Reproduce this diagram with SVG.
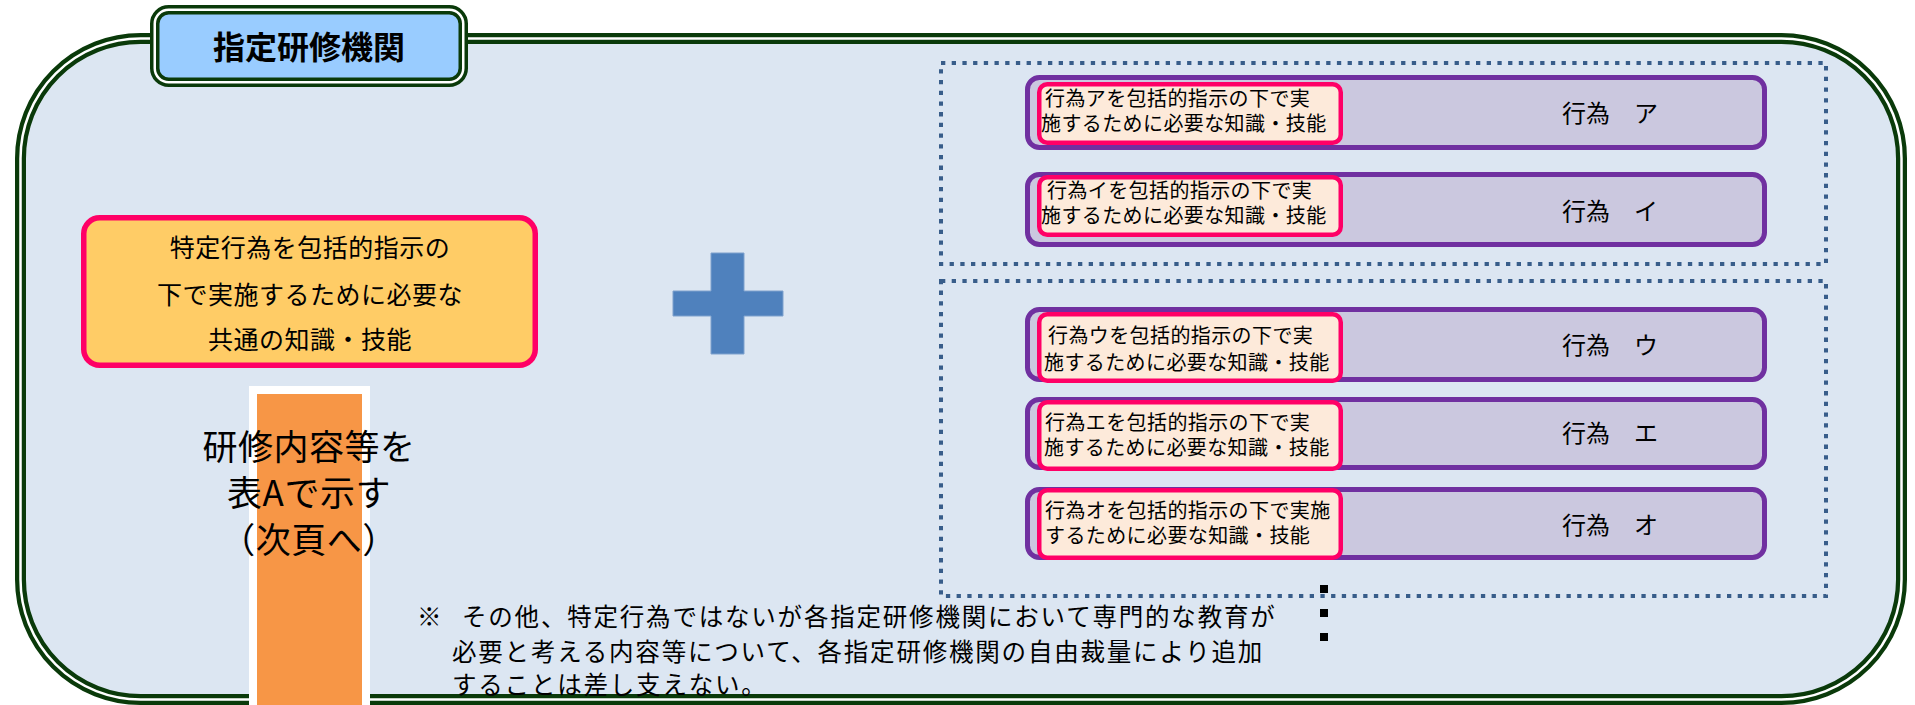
<svg xmlns="http://www.w3.org/2000/svg" width="1915" height="705" viewBox="0 0 1915 705">
<style>
  text { font-family: "Noto Sans CJK JP", "Noto Sans CJK SC", sans-serif; fill: #000; }
  .frame { fill: #DCE6F2; stroke: #0A3A0A; stroke-width: 11; }
  .frameW { fill: none; stroke: #FFFFFF; stroke-width: 2.5; }
  .dots { fill: none; stroke: #385D8A; stroke-width: 4; stroke-dasharray: 4.3 6.4; }
  .act { fill: #CBC8DF; stroke: #7030A0; stroke-width: 5; }
  .need { fill: #FDEADA; stroke: #FF0066; stroke-width: 4.5; }
  .needT { font-size: 20px; letter-spacing: 0.4px; }
  .actT { font-size: 24px; }
  .common { font-size: 25px; letter-spacing: 0.5px; }
  .col { font-size: 35px; letter-spacing: 0.5px; }
  .note { font-size: 24.5px; letter-spacing: 1.8px; }
</style>
<rect x="0" y="0" width="1915" height="705" fill="#FFFFFF"/>

<g id="frame">
  <rect class="frame" x="20.5" y="38.5" width="1881" height="661" rx="120"/>
  <rect class="frameW" x="20.5" y="38.5" width="1881" height="661" rx="120"/>
</g>

<g id="title">
  <rect x="154.75" y="9.75" width="308.5" height="72.5" rx="14" fill="#99CCFF" stroke="#0A3A0A" stroke-width="9.5"/>
  <rect x="154.75" y="9.75" width="308.5" height="72.5" rx="14" fill="none" stroke="#FFFFFF" stroke-width="2.5"/>
  <text x="309" y="59" font-size="32" font-weight="bold" text-anchor="middle">指定研修機関</text>
</g>

<g id="common">
  <rect x="83.75" y="217.75" width="451.5" height="147.5" rx="16" fill="#FFCC66" stroke="#FF0066" stroke-width="5.5"/>
  <text class="common" text-anchor="middle"><tspan x="310" y="257">特定行為を包括的指示の</tspan><tspan x="310" y="304">下で実施するために必要な</tspan><tspan x="310" y="349">共通の知識・技能</tspan></text>
</g>

<g id="tableA">
  <rect x="253" y="390" width="113" height="330" fill="#F79646" stroke="#FFFFFF" stroke-width="8"/>
  <text class="col" text-anchor="middle"><tspan x="309" y="460">研修内容等を</tspan><tspan x="309" y="506">表Aで示す</tspan><tspan x="309" y="553">（次頁へ）</tspan></text>
</g>

<g id="plus">
  <path d="M711,253 H744 V291 H783 V316 H744 V354 H711 V316 H673 V291 H711 Z" fill="#4F81BD" stroke="#7EA1CD" stroke-width="1"/>
</g>

<g id="group1">
  <rect class="dots" x="941" y="63" width="885" height="201"/>
</g>
<g id="group2">
  <rect class="dots" x="941" y="281" width="885" height="315"/>
</g>

<g id="actA">
  <rect class="act" x="1027.5" y="77.5" width="737" height="70" rx="12"/>
  <rect class="need" x="1039.25" y="84.25" width="301.5" height="58.5" rx="8"/>
  <text class="needT"><tspan x="1045" y="105.5">行為アを包括的指示の下で実</tspan><tspan x="1041" y="131">施するために必要な知識・技能</tspan></text>
  <text class="actT" x="1562" y="122">行為　ア</text>
</g>

<g id="actI">
  <rect class="act" x="1027.5" y="174.5" width="737" height="70" rx="12"/>
  <rect class="need" x="1039.25" y="177.25" width="301.5" height="57.5" rx="8"/>
  <text class="needT"><tspan x="1047" y="197.5">行為イを包括的指示の下で実</tspan><tspan x="1041" y="223">施するために必要な知識・技能</tspan></text>
  <text class="actT" x="1562" y="220">行為　イ</text>
</g>

<g id="actU">
  <rect class="act" x="1027.5" y="309.5" width="737" height="70" rx="12"/>
  <rect class="need" x="1039.25" y="314.25" width="301.5" height="66.5" rx="8"/>
  <text class="needT"><tspan x="1048" y="343">行為ウを包括的指示の下で実</tspan><tspan x="1044" y="370">施するために必要な知識・技能</tspan></text>
  <text class="actT" x="1562" y="354">行為　ウ</text>
</g>

<g id="actE">
  <rect class="act" x="1027.5" y="399.5" width="737" height="68" rx="12"/>
  <rect class="need" x="1039.25" y="402.25" width="301.5" height="66.5" rx="8"/>
  <text class="needT"><tspan x="1045" y="429.5">行為エを包括的指示の下で実</tspan><tspan x="1044" y="455">施するために必要な知識・技能</tspan></text>
  <text class="actT" x="1562" y="442">行為　エ</text>
</g>

<g id="actO">
  <rect class="act" x="1027.5" y="489.5" width="737" height="68" rx="12"/>
  <rect class="need" x="1039.25" y="490.25" width="301.5" height="67.5" rx="8"/>
  <text class="needT"><tspan x="1045" y="517.5">行為オを包括的指示の下で実施</tspan><tspan x="1045" y="543">するために必要な知識・技能</tspan></text>
  <text class="actT" x="1562" y="534">行為　オ</text>
</g>

<g id="ellipsis">
  <rect x="1320" y="585" width="8" height="8" fill="#000"/>
  <rect x="1320" y="609" width="8" height="8" fill="#000"/>
  <rect x="1320" y="633" width="8" height="8" fill="#000"/>
</g>

<g id="note">
  <text class="note"><tspan x="417" y="626">※</tspan><tspan x="462" y="626">その他、特定行為ではないが各指定研修機関において専門的な教育が</tspan><tspan x="452" y="661">必要と考える内容等について、各指定研修機関の自由裁量により追加</tspan><tspan x="452" y="694">することは差し支えない。</tspan></text>
</g>

<g id="connectors"></g>
</svg>
